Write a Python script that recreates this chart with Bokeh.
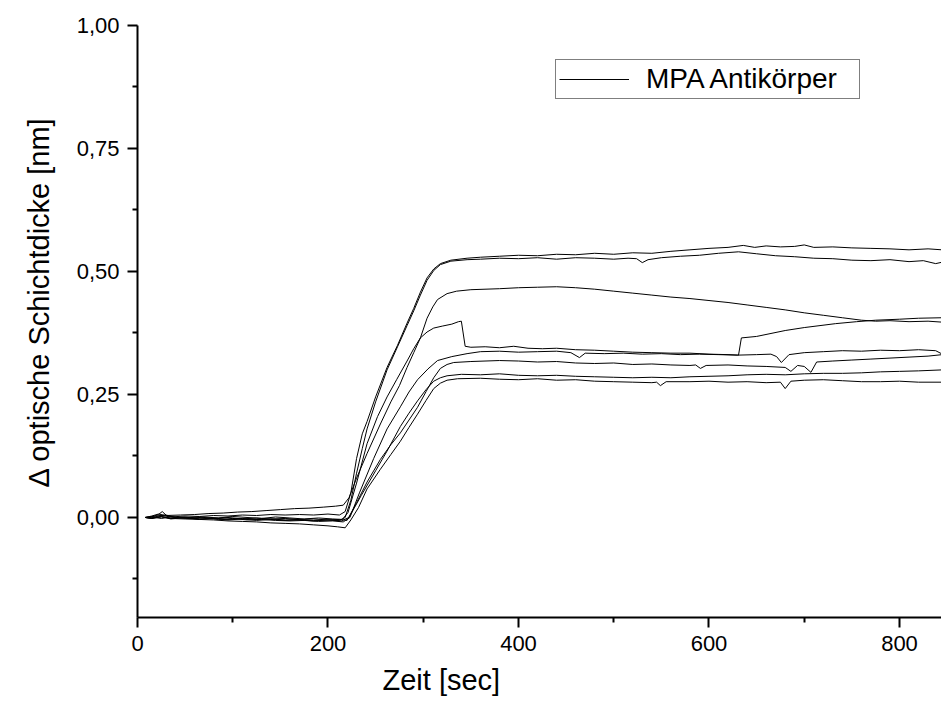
from bokeh.plotting import figure
from bokeh.models import (Range1d, FixedTicker, CustomJSTickFormatter, Title,
                          Legend, LegendItem)
from bokeh.embed import file_html
from bokeh.resources import INLINE

# ---------------- data ----------------
X_TICKS = [0, 200, 400, 600, 800]
X_MINOR = [100, 300, 500, 700]
Y_TICKS = [0.0, 0.25, 0.5, 0.75, 1.0]
Y_MINOR = [-0.125, 0.125, 0.375, 0.625, 0.875]

a_t = [8, 15, 25, 35, 50, 65, 80, 95, 110, 125, 140, 155, 170, 185, 200, 212, 218, 224, 230, 236, 241, 250, 262, 273, 283, 290, 297, 304, 311, 318, 329, 346, 360, 380, 400, 420, 440, 460, 480, 500, 520, 540, 560, 580, 600, 620, 636, 648, 660, 675, 690, 700, 710, 730, 750, 770, 790, 810, 830, 845]
a_y = [0.000, 0.002, 0.004, 0.001, 0.003, 0.002, 0.004, 0.003, 0.005, 0.004, 0.006, 0.005, 0.006, 0.005, 0.007, 0.005, 0.012, 0.050, 0.120, 0.170, 0.195, 0.245, 0.305, 0.350, 0.395, 0.425, 0.458, 0.487, 0.505, 0.516, 0.523, 0.527, 0.529, 0.531, 0.533, 0.532, 0.535, 0.534, 0.537, 0.535, 0.538, 0.537, 0.541, 0.544, 0.547, 0.549, 0.553, 0.549, 0.552, 0.550, 0.551, 0.554, 0.549, 0.550, 0.548, 0.547, 0.546, 0.544, 0.546, 0.544]

b_t = [8, 15, 25, 35, 50, 65, 80, 95, 110, 125, 140, 155, 170, 185, 200, 212, 218, 224, 230, 236, 241, 250, 262, 273, 283, 290, 297, 304, 311, 318, 329, 346, 360, 380, 400, 420, 440, 460, 480, 500, 515, 524, 530, 536, 550, 570, 590, 610, 631, 650, 670, 690, 710, 730, 750, 770, 790, 810, 825, 838, 845]
b_y = [0.000, -0.002, 0.002, -0.003, 0.000, -0.004, -0.002, -0.005, -0.003, -0.006, -0.004, -0.006, -0.005, -0.007, -0.005, -0.006, 0.000, 0.035, 0.090, 0.140, 0.180, 0.235, 0.300, 0.347, 0.390, 0.420, 0.452, 0.482, 0.502, 0.514, 0.521, 0.524, 0.525, 0.527, 0.526, 0.528, 0.525, 0.528, 0.527, 0.525, 0.527, 0.526, 0.518, 0.524, 0.528, 0.531, 0.533, 0.537, 0.540, 0.536, 0.532, 0.530, 0.527, 0.526, 0.523, 0.522, 0.524, 0.520, 0.522, 0.516, 0.519]

c_t = [8, 15, 22, 30, 45, 60, 75, 90, 105, 120, 135, 150, 165, 180, 195, 208, 216, 222, 230, 241, 255, 266, 275, 283, 290, 297, 304, 310, 315, 325, 335, 350, 380, 400, 420, 440, 460, 480, 500, 520, 540, 560, 580, 600, 620, 640, 660, 680, 700, 720, 740, 760, 775, 790, 810, 830, 845]
c_y = [0.000, 0.003, 0.007, 0.004, 0.005, 0.006, 0.008, 0.009, 0.011, 0.012, 0.014, 0.016, 0.018, 0.019, 0.021, 0.023, 0.025, 0.040, 0.080, 0.130, 0.190, 0.235, 0.268, 0.305, 0.335, 0.365, 0.405, 0.428, 0.443, 0.455, 0.460, 0.463, 0.465, 0.467, 0.468, 0.469, 0.467, 0.464, 0.460, 0.456, 0.452, 0.448, 0.445, 0.441, 0.437, 0.432, 0.427, 0.422, 0.416, 0.411, 0.406, 0.401, 0.399, 0.400, 0.398, 0.399, 0.397]

d_t = [8, 15, 22, 26, 31, 40, 55, 70, 85, 100, 115, 130, 145, 160, 175, 190, 205, 215, 221, 230, 241, 252, 262, 272, 283, 290, 297, 304, 311, 320, 330, 337, 340, 344, 350, 365, 380, 395, 410, 425, 440, 460, 480, 500, 520, 540, 560, 580, 600, 620, 631, 634, 650, 680, 700, 733, 755, 775, 800, 820, 845]
d_y = [0.000, 0.001, 0.006, 0.012, 0.003, 0.000, -0.002, 0.001, -0.001, 0.002, 0.000, -0.002, 0.001, -0.001, -0.003, -0.001, -0.003, -0.004, 0.010, 0.070, 0.150, 0.205, 0.245, 0.280, 0.318, 0.343, 0.365, 0.377, 0.385, 0.389, 0.393, 0.398, 0.399, 0.348, 0.346, 0.347, 0.345, 0.348, 0.344, 0.343, 0.344, 0.341, 0.340, 0.338, 0.336, 0.335, 0.334, 0.334, 0.332, 0.331, 0.330, 0.365, 0.368, 0.380, 0.386, 0.394, 0.398, 0.401, 0.403, 0.405, 0.406]

e_t = [8, 15, 22, 30, 40, 55, 70, 85, 100, 115, 130, 145, 160, 175, 190, 205, 216, 223, 233, 248, 262, 276, 285, 294, 305, 315, 330, 346, 360, 380, 400, 420, 440, 455, 464, 470, 490, 510, 530, 550, 570, 590, 610, 630, 650, 665, 671, 676, 684, 700, 720, 740, 760, 780, 800, 820, 838, 845]
e_y = [0.000, -0.001, 0.003, 0.005, 0.000, -0.002, -0.001, -0.004, -0.002, -0.005, -0.004, -0.006, -0.007, -0.006, -0.008, -0.007, -0.009, 0.000, 0.050, 0.120, 0.180, 0.225, 0.255, 0.280, 0.302, 0.319, 0.327, 0.333, 0.337, 0.338, 0.336, 0.337, 0.338, 0.335, 0.325, 0.334, 0.333, 0.334, 0.332, 0.333, 0.331, 0.332, 0.331, 0.330, 0.331, 0.332, 0.327, 0.315, 0.331, 0.335, 0.337, 0.339, 0.338, 0.340, 0.339, 0.341, 0.339, 0.332]

f_t = [8, 15, 25, 35, 50, 65, 80, 95, 110, 125, 140, 155, 170, 185, 200, 212, 220, 230, 241, 255, 266, 276, 285, 294, 303, 311, 318, 325, 332, 350, 380, 400, 420, 440, 460, 480, 500, 520, 540, 560, 580, 586, 591, 597, 620, 640, 660, 680, 686, 693, 700, 707, 713, 730, 750, 770, 790, 810, 830, 845]
f_y = [0.000, 0.001, -0.002, 0.001, -0.001, 0.001, -0.002, 0.000, -0.003, -0.001, -0.003, -0.002, -0.004, -0.003, -0.005, -0.004, -0.006, 0.030, 0.072, 0.118, 0.148, 0.172, 0.198, 0.224, 0.256, 0.284, 0.303, 0.311, 0.315, 0.317, 0.319, 0.318, 0.316, 0.317, 0.314, 0.313, 0.314, 0.311, 0.312, 0.310, 0.309, 0.310, 0.303, 0.309, 0.310, 0.308, 0.307, 0.305, 0.297, 0.309, 0.307, 0.295, 0.316, 0.318, 0.320, 0.322, 0.324, 0.326, 0.328, 0.331]

g_t = [8, 15, 25, 35, 50, 65, 80, 95, 110, 125, 140, 155, 170, 185, 200, 214, 222, 235, 250, 262, 276, 285, 294, 303, 311, 318, 325, 340, 360, 380, 400, 420, 440, 460, 480, 500, 520, 540, 560, 580, 600, 620, 640, 660, 680, 700, 720, 740, 760, 780, 800, 820, 845]
g_y = [0.000, -0.001, 0.002, -0.002, 0.001, -0.003, -0.001, -0.004, -0.002, -0.004, -0.003, -0.005, -0.004, -0.006, -0.005, -0.007, 0.000, 0.045, 0.095, 0.135, 0.185, 0.212, 0.237, 0.260, 0.277, 0.284, 0.288, 0.291, 0.290, 0.292, 0.289, 0.288, 0.289, 0.287, 0.286, 0.285, 0.284, 0.285, 0.284, 0.286, 0.287, 0.288, 0.290, 0.291, 0.290, 0.292, 0.293, 0.293, 0.294, 0.296, 0.297, 0.298, 0.300]

h_t = [8, 15, 25, 35, 50, 65, 80, 95, 110, 125, 140, 155, 170, 185, 200, 210, 218, 224, 232, 241, 255, 266, 276, 285, 294, 303, 311, 318, 325, 336, 360, 380, 400, 420, 440, 460, 480, 500, 520, 540, 545, 549, 555, 580, 600, 620, 640, 660, 675, 680, 686, 700, 720, 740, 760, 780, 800, 820, 845]
h_y = [0.000, -0.002, 0.001, -0.002, -0.003, -0.004, -0.005, -0.007, -0.008, -0.009, -0.011, -0.012, -0.013, -0.015, -0.017, -0.019, -0.021, -0.005, 0.020, 0.058, 0.098, 0.128, 0.155, 0.183, 0.210, 0.238, 0.262, 0.273, 0.279, 0.282, 0.283, 0.281, 0.280, 0.282, 0.279, 0.280, 0.277, 0.276, 0.275, 0.274, 0.275, 0.268, 0.276, 0.276, 0.277, 0.275, 0.276, 0.274, 0.275, 0.262, 0.277, 0.279, 0.280, 0.278, 0.276, 0.276, 0.277, 0.275, 0.275]

CURVES = [(a_t, a_y), (b_t, b_y), (c_t, c_y), (d_t, d_y),
          (e_t, e_y), (f_t, f_y), (g_t, g_y), (h_t, h_y)]

LEGEND_LABEL = "MPA Antikörper"
X_LABEL = "Zeit [sec]"
Y_LABEL = "\u0394 optische Schichtdicke [nm]"

FONT = "Liberation Sans"

# ---------------- figure ----------------
p = figure(width=941, height=704, output_backend="svg", toolbar_location=None,
           x_range=Range1d(0, 844.1), y_range=Range1d(-0.2033, 1.0),
           min_border_left=137, min_border_right=0,
           min_border_top=25, min_border_bottom=87)
p.outline_line_color = None
p.grid.visible = False
p.background_fill_color = "white"
p.border_fill_color = "white"

renderers = []
for t, y in CURVES:
    r = p.line(t, y, line_color="black", line_width=1)
    renderers.append(r)

p.xaxis.ticker = FixedTicker(ticks=X_TICKS, minor_ticks=X_MINOR)
p.yaxis.ticker = FixedTicker(ticks=Y_TICKS, minor_ticks=Y_MINOR)
p.yaxis.formatter = CustomJSTickFormatter(code="return tick.toFixed(2).replace('.', ',');")

for ax in (p.xaxis[0], p.yaxis[0]):
    ax.axis_line_width = 2
    ax.axis_line_color = "black"
    ax.major_tick_line_width = 2
    ax.minor_tick_line_width = 2
    ax.major_tick_line_color = "black"
    ax.minor_tick_line_color = "black"
    ax.major_tick_out = 10
    ax.major_tick_in = 0
    ax.minor_tick_out = 5
    ax.minor_tick_in = 0
    ax.major_label_text_font_size = "22px"
    ax.major_label_text_font = FONT
    ax.major_label_text_color = "black"
    ax.major_label_standoff = 8

xt = Title(text=X_LABEL, align="left", offset=245, standoff=17,
           text_font_size="29px", text_font=FONT, text_font_style="normal",
           text_color="black")
yt = Title(text=Y_LABEL, align="left", offset=130, standoff=38,
           text_font_size="29px", text_font=FONT, text_font_style="normal",
           text_color="black")
p.add_layout(xt, "below")
p.add_layout(yt, "left")

legend = Legend(items=[LegendItem(label=LEGEND_LABEL, renderers=[renderers[0]])],
                location=(418, 518), border_line_color="black", border_line_width=1,
                background_fill_color="white", background_fill_alpha=1.0,
                padding=3, margin=0, spacing=0, glyph_width=70, glyph_height=20,
                label_standoff=17, label_text_font_size="28px",
                label_text_font=FONT, label_text_color="black",
                label_height=28, label_width=210)
p.add_layout(legend)

open("out.html", "w").write(file_html(p, INLINE))
